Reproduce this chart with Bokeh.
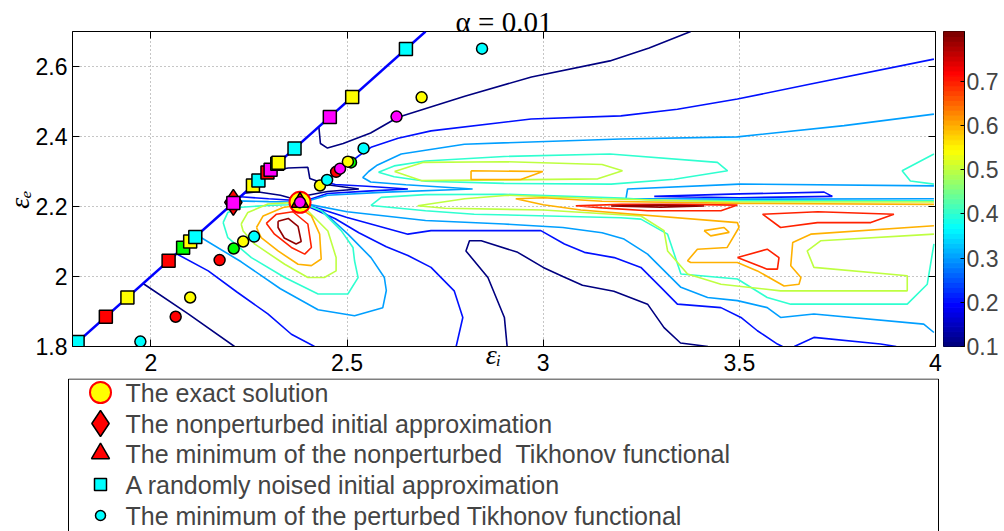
import numpy as np
from bokeh.plotting import figure
from bokeh.models import Range1d, FixedTicker, LinearAxis, Label
from bokeh.layouts import row, column
from bokeh.embed import file_html
from bokeh.resources import INLINE

# ---------------- data ----------------
x_ticks = [2.0, 2.5, 3.0, 3.5, 4.0]
x_tick_labels = ["2", "2.5", "3", "3.5", "4"]
y_ticks = [1.8, 2.0, 2.2, 2.4, 2.6]
y_tick_labels = ["1.8", "2", "2.2", "2.4", "2.6"]
cbar_ticks = [0.1, 0.2, 0.3, 0.4, 0.5, 0.6, 0.7]
c_low, c_high = 0.1, 0.813

levels = [0.1, 0.2, 0.3, 0.4, 0.5, 0.6, 0.7, 0.8]

# contour paths per level: (eps_i list, eps_e list)
lvl_01 = [
    ([1.98, 2.095, 2.213], [1.98, 1.893, 1.80]),
    ([2.428, 2.432, 2.45, 2.49, 2.56, 2.63, 2.8, 2.97, 3.17, 3.27, 3.376],
     [2.428, 2.38, 2.367, 2.38, 2.41, 2.455, 2.515, 2.57, 2.616, 2.653, 2.70]),
    ([2.30, 2.35, 2.40, 2.405, 2.45, 2.53, 2.45, 2.40, 2.383, 2.33, 2.27, 2.238],
     [2.30, 2.31, 2.312, 2.28, 2.262, 2.25, 2.243, 2.232, 2.216, 2.232, 2.242, 2.238]),
    ([2.908, 2.901, 2.859, 2.803, 2.812, 2.842, 2.935, 3.0, 3.05, 3.10, 3.18, 3.266, 3.308, 3.35, 3.42],
     [1.80, 1.883, 1.997, 2.073, 2.102, 2.102, 2.069, 2.026, 2.0, 1.975, 1.958, 1.921, 1.854, 1.81, 1.80]),
]
lvl_02 = [
    ([2.065, 2.146, 2.22, 2.298, 2.358, 2.417], [2.065, 2.016, 1.955, 1.893, 1.835, 1.80]),
    ([2.228, 2.30, 2.36, 2.383, 2.45, 2.55, 2.655, 2.55, 2.47, 2.445, 2.46, 2.49, 2.53, 2.561, 2.63, 2.714,
      2.969, 3.198, 3.342, 3.495, 3.682, 3.996],
     [2.228, 2.222, 2.218, 2.212, 2.237, 2.244, 2.25, 2.258, 2.263, 2.27, 2.285, 2.31, 2.345, 2.369, 2.395, 2.416,
      2.45, 2.459, 2.478, 2.507, 2.55, 2.621]),
    ([2.39, 2.46, 2.498, 2.655, 2.714, 2.994, 3.054, 3.105, 3.181, 3.249, 3.30, 3.342, 3.453, 3.504, 3.546, 3.597, 3.61],
     [2.208, 2.183, 2.169, 2.121, 2.131, 2.131, 2.093, 2.069, 2.054, 2.026, 1.969, 1.921, 1.911, 1.883, 1.845, 1.807, 1.80]),
    ([2.39, 2.47, 2.53, 2.60, 2.655, 2.714, 2.773, 2.795, 2.778],
     [2.206, 2.165, 2.125, 2.085, 2.06, 2.026, 1.959, 1.883, 1.80]),
    ([3.64, 3.69, 3.86, 3.90], [1.80, 1.826, 1.807, 1.80]),
    ([3.283, 3.5, 3.716, 3.737, 3.5, 3.283], [2.229, 2.236, 2.241, 2.229, 2.225, 2.229]),
]
lvl_03 = [
    ([2.118, 2.23, 2.33, 2.426, 2.519, 2.591, 2.60, 2.595, 2.561, 2.502, 2.44, 2.39],
     [2.118, 2.042, 1.965, 1.905, 1.888, 1.911, 1.96, 1.997, 2.054, 2.121, 2.185, 2.211]),
    ([2.216, 2.30, 2.36, 2.385, 2.45, 2.6, 2.82, 2.65, 2.56, 2.54, 2.555, 2.575, 2.638, 2.799, 3.198, 3.495, 3.767, 3.996],
     [2.216, 2.214, 2.213, 2.211, 2.232, 2.241, 2.25, 2.262, 2.27, 2.283, 2.30, 2.317, 2.35, 2.378, 2.393, 2.399, 2.431, 2.464]),
    ([3.996, 3.5, 3.215, 3.211, 3.5, 3.996], [2.259, 2.264, 2.25, 2.223, 2.221, 2.222]),
    ([2.39, 2.5, 2.7, 2.9, 3.05, 3.15, 3.206, 3.266, 3.351, 3.419, 3.495, 3.571, 3.605, 3.69, 3.97, 3.996],
     [2.209, 2.185, 2.16, 2.15, 2.14, 2.125, 2.107, 2.064, 1.969, 1.94, 1.931, 1.911, 1.883, 1.893, 1.864, 1.84]),
]
lvl_04 = [
    ([2.184, 2.196, 2.23, 2.30, 2.35, 2.383, 2.434, 2.485, 2.515, 2.519, 2.528, 2.502, 2.426, 2.341, 2.256, 2.196, 2.184],
     [2.154, 2.183, 2.198, 2.203, 2.205, 2.211, 2.188, 2.131, 2.083, 2.045, 1.997, 1.95, 1.95, 1.997, 2.054, 2.111, 2.154]),
    ([2.58, 2.62, 2.70, 2.9, 3.17, 3.444, 3.47, 3.334, 3.173, 2.9, 2.7, 2.62, 2.58],
     [2.298, 2.316, 2.33, 2.343, 2.35, 2.326, 2.302, 2.278, 2.264, 2.266, 2.272, 2.285, 2.298]),
    ([3.996, 3.915, 3.936, 3.996], [2.35, 2.302, 2.273, 2.264]),
    ([3.996, 3.6, 3.3, 3.2, 2.9, 2.7, 2.587, 2.561, 2.7, 2.824, 3.198, 3.249, 3.317, 3.351, 3.495, 3.571, 3.631, 3.928, 3.979, 3.996],
     [2.216, 2.216, 2.217, 2.224, 2.235, 2.234, 2.226, 2.203, 2.188, 2.178, 2.168, 2.164, 2.121, 2.007, 1.993, 1.94, 1.921, 1.921, 1.978, 2.093]),
]
lvl_05 = [
    ([2.23, 2.247, 2.298, 2.358, 2.38, 2.451, 2.472, 2.472, 2.442, 2.40, 2.341, 2.264, 2.235, 2.23],
     [2.15, 2.183, 2.207, 2.211, 2.21, 2.13, 2.054, 2.016, 1.997, 1.997, 2.035, 2.093, 2.13, 2.15]),
    ([2.621, 2.693, 2.9, 3.15, 3.202, 3.139, 2.9, 2.689, 2.621],
     [2.30, 2.326, 2.328, 2.32, 2.302, 2.279, 2.276, 2.274, 2.30]),
    ([3.996, 3.5, 3.15, 2.91, 2.8, 2.68, 2.75, 3.0, 3.249, 3.308, 3.317, 3.368, 3.453, 3.605, 3.928, 3.928, 3.69, 3.673, 3.707, 3.996],
     [2.213, 2.213, 2.222, 2.232, 2.222, 2.202, 2.195, 2.19, 2.173, 2.131, 2.073, 2.007, 1.978, 1.959, 1.959, 2.002, 2.026, 2.073, 2.102, 2.121]),
]
lvl_06 = [
    ([2.269, 2.286, 2.337, 2.37, 2.409, 2.43, 2.434, 2.409, 2.375, 2.324, 2.281, 2.269],
     [2.14, 2.173, 2.197, 2.203, 2.173, 2.121, 2.05, 2.031, 2.035, 2.073, 2.111, 2.14]),
    ([2.816, 2.999, 2.943, 2.816, 2.816], [2.302, 2.30, 2.277, 2.277, 2.302]),
    ([3.996, 3.5, 3.15, 3.0, 2.93, 3.0, 3.096, 3.495, 3.499, 3.469, 3.393, 3.368, 3.376, 3.495, 3.546, 3.614, 3.652, 3.657, 3.631, 3.636, 3.682, 3.996],
     [2.206, 2.209, 2.215, 2.225, 2.222, 2.205, 2.19, 2.154, 2.14, 2.083, 2.078, 2.045, 2.04, 2.04, 2.016, 1.973, 1.978, 1.997, 2.031, 2.097, 2.121, 2.145]),
    ([3.41, 3.461, 3.474, 3.427, 3.41], [2.131, 2.14, 2.126, 2.116, 2.131]),
]
lvl_07 = [
    ([2.294, 2.32, 2.362, 2.40, 2.409, 2.392, 2.358, 2.315, 2.294],
     [2.152, 2.178, 2.185, 2.15, 2.083, 2.064, 2.083, 2.121, 2.152]),
    ([3.083, 3.2, 3.35, 3.495, 3.453, 3.266, 3.15, 3.083], [2.202, 2.206, 2.206, 2.204, 2.188, 2.188, 2.196, 2.202]),
    ([3.559, 3.605, 3.699, 3.835, 3.894, 3.7, 3.559], [2.178, 2.14, 2.154, 2.154, 2.178, 2.185, 2.178]),
    ([3.495, 3.571, 3.601, 3.597, 3.571, 3.495], [2.054, 2.078, 2.054, 2.021, 2.021, 2.054]),
]
lvl_08 = [
    ([2.324, 2.35, 2.375, 2.383, 2.37, 2.34, 2.324, 2.324], [2.158, 2.166, 2.143, 2.10, 2.093, 2.11, 2.14, 2.158]),
    ([3.173, 3.3, 3.41, 3.3, 3.173], [2.2015, 2.204, 2.2015, 2.198, 2.2015]),
]
contour_sets = [lvl_01, lvl_02, lvl_03, lvl_04, lvl_05, lvl_06, lvl_07, lvl_08]

# diagonal eps_e = eps_i
diag_i = [1.8, 2.7]
diag_e = [1.8, 2.7]

# randomly noised initial approximations (on the diagonal)
sq_e = [1.813, 1.885, 1.94, 2.045, 2.082, 2.10, 2.113, 2.21, 2.26, 2.274, 2.297, 2.305, 2.322, 2.325, 2.366, 2.456, 2.513, 2.65]
sq_c = ["#00ffff", "#ff0000", "#ffff00", "#ff0000", "#00ff00", "#ffff00", "#00ffff", "#ff00ff", "#ffff00",
        "#00ffff", "#ff0000", "#ff00ff", "#00ff00", "#ffff00", "#00ffff", "#ff00ff", "#ffff00", "#00ffff"]
# minima of the perturbed functional
pm_i = [1.973, 2.063, 2.10, 2.175, 2.211, 2.235, 2.263, 2.38, 2.431, 2.449, 2.472, 2.482, 2.51, 2.502, 2.542, 2.626, 2.69, 2.844]
pm_e = [1.814, 1.885, 1.94, 2.047, 2.08, 2.10, 2.114, 2.212, 2.26, 2.276, 2.299, 2.308, 2.326, 2.328, 2.366, 2.457, 2.512, 2.651]
pm_c = ["#00ffff", "#ff0000", "#ffff00", "#ff0000", "#00ff00", "#ffff00", "#00ffff", "#ff00ff", "#ffff00",
        "#00ffff", "#ff0000", "#ff00ff", "#00ff00", "#ffff00", "#00ffff", "#ff00ff", "#ffff00", "#00ffff"]
exact_i, exact_e = [2.38], [2.212]
npinit_i, npinit_e = [2.21], [2.212]
npmin_i, npmin_e = [2.38], [2.212]

NB = "\u00a0"
title_text = "α = 0.01"
xlabel_text = "εᵢ"
ylabel_text = "εₑ"
legend_texts = ["The exact solution", "The nonperturbed initial approximation",
                "The minimum of the nonperturbed" + NB + " Tikhonov functional",
                "A randomly noised initial approximation",
                "The minimum of the perturbed Tikhonov functional"]


def jet(f):
    f = min(max(f, 0.0), 1.0)
    r = min(max(1.5 - abs(4 * f - 3), 0), 1)
    g = min(max(1.5 - abs(4 * f - 2), 0), 1)
    b = min(max(1.5 - abs(4 * f - 1), 0), 1)
    return "#%02x%02x%02x" % (round(r * 255), round(g * 255), round(b * 255))


TICK_FONT = "Liberation Sans"
SERIF = "Liberation Serif"

# ---------------- main plot ----------------
FRAME_L, FRAME_T, FRAME_W, FRAME_H = 71, 31, 864, 315
W_MAIN = FRAME_L + FRAME_W + 8
H_TOP = 378
p = figure(width=W_MAIN, height=H_TOP, x_range=Range1d(1.8, 4.0), y_range=Range1d(1.8, 2.7),
           output_backend="svg", toolbar_location=None,
           min_border_left=FRAME_L, min_border_right=8, min_border_top=FRAME_T,
           min_border_bottom=H_TOP - FRAME_T - FRAME_H)
p.outline_line_color = "black"
p.outline_line_width = 1
p.background_fill_color = "white"
p.border_fill_color = "white"

for ax in (p.xaxis[0], p.yaxis[0]):
    ax.major_label_text_font = TICK_FONT
    ax.major_label_text_font_size = "23px"
    ax.major_label_text_color = "black"
    ax.major_tick_in = 7
    ax.major_tick_out = 0
    ax.minor_tick_line_color = None
    ax.axis_line_color = "black"
    ax.major_tick_line_color = "black"
    ax.axis_label_text_font = SERIF
    ax.axis_label_text_font_style = "italic"
    ax.axis_label_text_font_size = "28px"
    ax.axis_label_text_color = "black"
p.xaxis.ticker = FixedTicker(ticks=x_ticks)
p.xaxis.major_label_overrides = {t: s for t, s in zip(x_ticks, x_tick_labels)}
p.xaxis.major_label_standoff = 7
p.xaxis.axis_label = xlabel_text + NB * 3
p.xaxis.axis_label_standoff = -35
p.yaxis.ticker = FixedTicker(ticks=y_ticks)
p.yaxis.major_label_overrides = {t: s for t, s in zip(y_ticks, y_tick_labels)}
p.yaxis.major_label_standoff = 5
p.yaxis.axis_label = ylabel_text + NB * 3
p.yaxis.axis_label_standoff = -2

ax_r = LinearAxis(ticker=FixedTicker(ticks=y_ticks), major_label_text_font_size="0px",
                  major_tick_in=7, major_tick_out=0, major_label_standoff=0,
                  minor_tick_line_color=None, axis_line_color=None, major_tick_line_color="black")
ax_r.major_label_overrides = {t: "" for t in y_ticks}
p.add_layout(ax_r, "right")
ax_t = LinearAxis(ticker=FixedTicker(ticks=x_ticks), major_label_text_font_size="0px",
                  major_tick_in=7, major_tick_out=0, major_label_standoff=0,
                  minor_tick_line_color=None, axis_line_color=None, major_tick_line_color="black",
                  axis_label=title_text, axis_label_text_font=SERIF, axis_label_text_font_style="normal",
                  axis_label_text_font_size="29px", axis_label_standoff=-6, axis_label_text_color="black")
ax_t.major_label_overrides = {t: "" for t in x_ticks}
p.add_layout(ax_t, "above")

p.xgrid.ticker = FixedTicker(ticks=x_ticks)
p.ygrid.ticker = FixedTicker(ticks=y_ticks)
for g in (p.xgrid[0], p.ygrid[0]):
    g.grid_line_color = "#8c8c8c"
    g.grid_line_dash = "1 3"
    g.grid_line_width = 1

for lev, paths in zip(levels, contour_sets):
    col = jet((lev - c_low) / (c_high - c_low))
    p.multi_line([pp[0] for pp in paths], [pp[1] for pp in paths], line_color=col, line_width=1.6)

p.line(diag_i, diag_e, line_color="#0000ff", line_width=2.5)

p.scatter(npinit_i, npinit_e, marker="diamond", size=26, fill_color="#ff0000", line_color="black", line_width=1.5)
p.scatter(sq_e, sq_e, marker="square", size=13, fill_color=sq_c, line_color="black", line_width=1.5)
p.scatter(exact_i, exact_e, marker="circle", size=21, fill_color="#ffff00", line_color="#ff0000", line_width=2)
p.scatter(npmin_i, npmin_e, marker="triangle", size=17, fill_color="#ff0000", line_color="black", line_width=1.5)
p.scatter(pm_i, pm_e, marker="circle", size=11, fill_color=pm_c, line_color="black", line_width=1.5)

# ---------------- colour bar as its own small figure ----------------
palette = [jet(i / 63.0) for i in range(64)]
edges = np.linspace(c_low, c_high, 65)
CB_W = 1004 - W_MAIN
cb = figure(width=CB_W, height=H_TOP, x_range=Range1d(0, 1), y_range=Range1d(c_low, c_high),
            output_backend="svg", toolbar_location=None, x_axis_location=None, y_axis_location="right",
            min_border_left=0, min_border_right=CB_W - 21, min_border_top=29, min_border_bottom=H_TOP - 29 - 321)
cb.quad(left=0, right=1, bottom=edges[:-1], top=edges[1:], fill_color=palette, line_color=palette)
cb.grid.visible = False
cb.outline_line_color = "black"
cb.yaxis.ticker = FixedTicker(ticks=cbar_ticks)
cb.yaxis.major_label_overrides = {t: "%.1f" % t for t in cbar_ticks}
cb.yaxis.major_label_text_font = TICK_FONT
cb.yaxis.major_label_text_font_size = "23px"
cb.yaxis.major_tick_in = 4
cb.yaxis.major_tick_out = 0
cb.yaxis.minor_tick_line_color = None
cb.yaxis.axis_line_color = "black"
cb.yaxis.major_label_standoff = 2

# ---------------- legend as its own figure ----------------
H_LEG = 531 - H_TOP
W_ALL = W_MAIN + CB_W
lg = figure(width=W_ALL, height=H_LEG, x_range=Range1d(0, W_ALL), y_range=Range1d(H_LEG, 0),
            output_backend="svg", toolbar_location=None, x_axis_location=None, y_axis_location=None,
            min_border=0)
lg.grid.visible = False
lg.outline_line_color = None
lg.line([68, 68, 938, 938], [H_LEG, 0.5, 0.5, H_LEG], line_color="black", line_width=1)
rows_y = [392 - H_TOP, 423 - H_TOP, 453 - H_TOP, 484 - H_TOP, 515 - H_TOP]
mx = 100
lg.scatter([mx], [rows_y[0]], marker="circle", size=21, fill_color="#ffff00", line_color="#ff0000", line_width=2)
lg.scatter([mx], [rows_y[1]], marker="diamond", size=26, fill_color="#ff0000", line_color="black", line_width=1.5)
lg.scatter([mx], [rows_y[2]], marker="triangle", size=18, fill_color="#ff0000", line_color="black", line_width=1.5)
lg.scatter([mx], [rows_y[3]], marker="square", size=12, fill_color="#00ffff", line_color="black", line_width=1.5)
lg.scatter([mx], [rows_y[4]], marker="circle", size=10, fill_color="#00ffff", line_color="black", line_width=1.5)
for ty, tt in zip(rows_y, legend_texts):
    lg.add_layout(Label(x=125, y=ty, text=tt, text_font=TICK_FONT, text_font_size="25px",
                        text_align="left", text_baseline="middle"))

layout = column(row(p, cb), lg)
open("out.html", "w").write(file_html(layout, INLINE))
